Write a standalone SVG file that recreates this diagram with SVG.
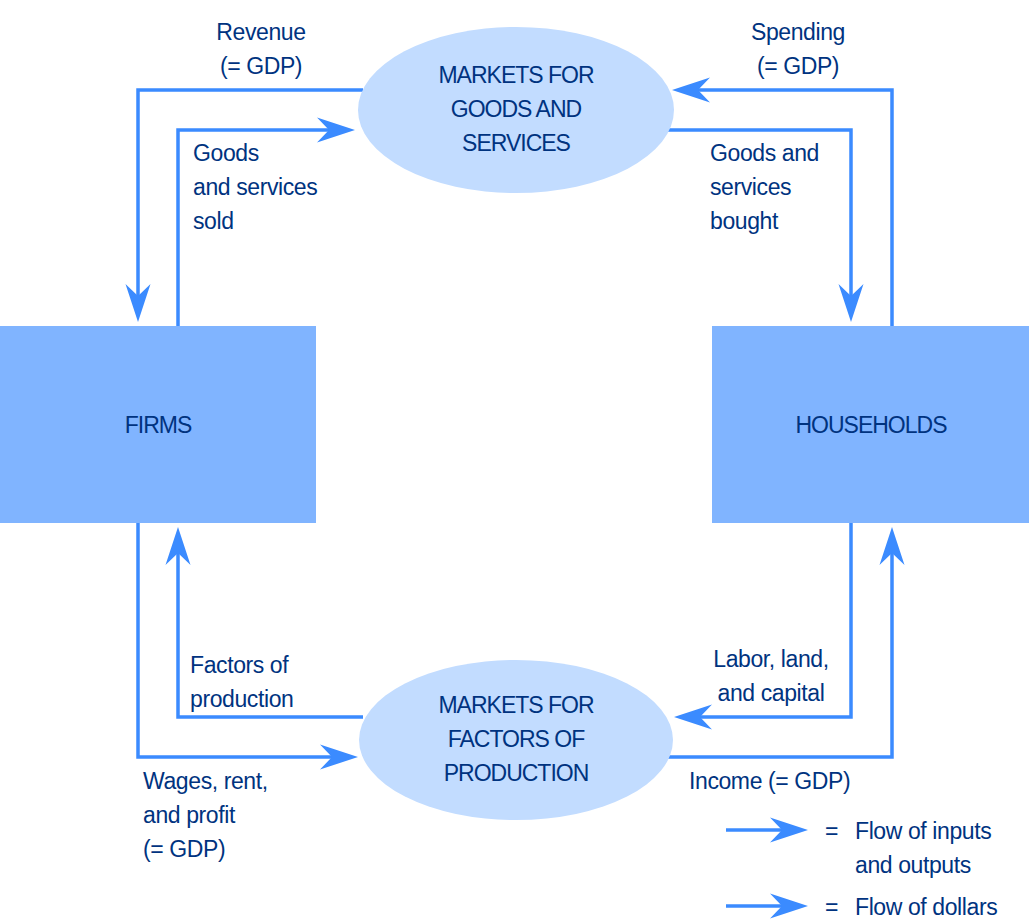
<svg xmlns="http://www.w3.org/2000/svg" width="1029" height="920" viewBox="0 0 1029 920">
<style>
text{font-family:"Liberation Sans",Arial,sans-serif;font-size:23px;letter-spacing:-0.4px;fill:#00337f}
.c{text-anchor:middle}
.cap{letter-spacing:-1px}
.box{fill:#80b4ff}
.mkt{fill:#c2dcff}
.ln{fill:none;stroke:#3b8bff;stroke-width:3.5;marker-end:url(#ah)}
</style>
<defs>
<marker id="ah" markerUnits="userSpaceOnUse" viewBox="-20 -14 42 28" refX="0" refY="0" markerWidth="42" markerHeight="28" orient="auto" overflow="visible">
<path d="M20,0 L-18,-12.5 L-6,0 L-18,12.5 Z" fill="#3b8bff"/>
</marker>
</defs>
<g id="connectors">
<path class="ln" d="M363,90 H138 V302"/>
<path class="ln" d="M178,326 V130 H335"/>
<path class="ln" d="M892,326 V90 H692"/>
<path class="ln" d="M668,130 H851 V302"/>
<path class="ln" d="M363,717 H178 V547"/>
<path class="ln" d="M138,523 V757 H338"/>
<path class="ln" d="M851,523 V717 H694"/>
<path class="ln" d="M668,757 H892 V547"/>
<path class="ln" d="M726,830 H788"/>
<path class="ln" d="M726,906 H788"/>
</g>
<g id="firms">
<rect class="box" x="0" y="326" width="316" height="197"/>
<text class="c cap" x="158" y="433">FIRMS</text>
</g>
<g id="households">
<rect class="box" x="712" y="326" width="317" height="197"/>
<text class="c cap" x="871" y="433">HOUSEHOLDS</text>
</g>
<g id="goods-market">
<ellipse class="mkt" cx="516" cy="110" rx="158" ry="83"/>
<text class="c cap" x="516" y="83">MARKETS FOR</text>
<text class="c cap" x="516" y="117">GOODS AND</text>
<text class="c cap" x="516" y="151">SERVICES</text>
</g>
<g id="factor-market">
<ellipse class="mkt" cx="516" cy="740" rx="157" ry="80"/>
<text class="c cap" x="516" y="713">MARKETS FOR</text>
<text class="c cap" x="516" y="747">FACTORS OF</text>
<text class="c cap" x="516" y="781">PRODUCTION</text>
</g>
<g id="labels">
<text class="c" x="261" y="40">Revenue</text>
<text class="c" x="261" y="74">(= GDP)</text>
<text class="c" x="798" y="40">Spending</text>
<text class="c" x="798" y="74">(= GDP)</text>
<text x="193" y="161">Goods</text>
<text x="193" y="195">and services</text>
<text x="193" y="229">sold</text>
<text x="710" y="161">Goods and</text>
<text x="710" y="195">services</text>
<text x="710" y="229">bought</text>
<text x="190" y="673">Factors of</text>
<text x="190" y="707">production</text>
<text class="c" x="771" y="667">Labor, land,</text>
<text class="c" x="771" y="701">and capital</text>
<text x="689" y="789">Income (= GDP)</text>
<text x="143" y="789">Wages, rent,</text>
<text x="143" y="823">and profit</text>
<text x="143" y="857">(= GDP)</text>
</g>
<g id="legend">
<text x="825" y="839">=</text>
<text x="855" y="839">Flow of inputs</text>
<text x="855" y="873">and outputs</text>
<text x="825" y="915">=</text>
<text x="855" y="915">Flow of dollars</text>
</g>
</svg>
